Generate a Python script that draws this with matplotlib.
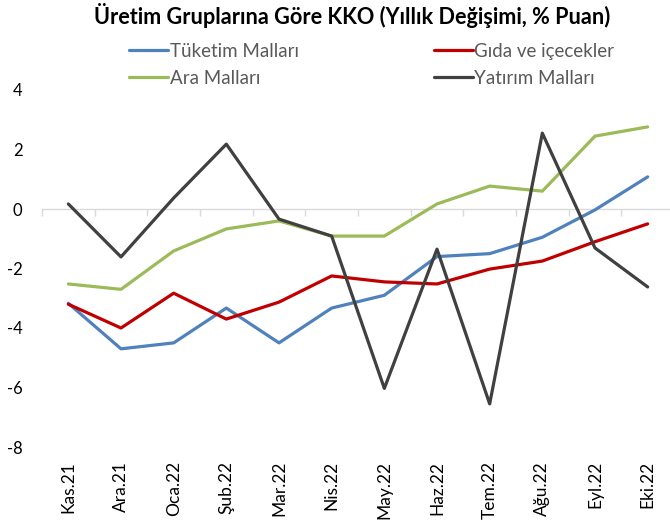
import matplotlib

matplotlib.use("Agg")

import matplotlib.pyplot as plt
from matplotlib.ticker import FixedLocator, NullFormatter

plt.rcParams["font.family"] = ["Lato", "DejaVu Sans"]

months = ["Kas.21", "Ara.21", "Oca.22", "Şub.22", "Mar.22", "Nis.22",
          "May.22", "Haz.22", "Tem.22", "Ağu.22", "Eyl.22", "Eki.22"]
tuketim = [-3.17, -4.70, -4.50, -3.33, -4.50, -3.33, -2.90, -1.60, -1.50, -0.95, -0.03, 1.08]
gida = [-3.20, -4.00, -2.83, -3.70, -3.13, -2.25, -2.45, -2.52, -2.02, -1.75, -1.10, -0.50]
ara = [-2.52, -2.70, -1.41, -0.67, -0.40, -0.91, -0.91, 0.17, 0.77, 0.60, 2.45, 2.76]
yatirim = [0.17, -1.61, 0.37, 2.18, -0.34, -0.91, -6.03, -1.35, -6.55, 2.55, -1.31, -2.62]

series = {
    "Tüketim Malları": (tuketim, "#4F81BD"),
    "Gıda ve içecekler": (gida, "#C00000"),
    "Ara Malları": (ara, "#9BBB59"),
    "Yatırım Malları": (yatirim, "#404040"),
}
# legend fills column-wise, so list column 1 entries first
legend_order = ["Tüketim Malları", "Ara Malları", "Gıda ve içecekler", "Yatırım Malları"]

W, H = 670, 522
fig = plt.figure(figsize=(W / 100, H / 100), dpi=100)
ax = fig.add_axes([42 / W, 1 - 447 / H, 632 / W, (447 - 90) / H])

x = list(range(len(months)))
lines = {}
for label, (vals, color) in series.items():
    (lines[label],) = ax.plot(x, vals, color=color, linewidth=2.3, label=label,
                              solid_capstyle="round")

ax.set_xlim(-0.5, len(months) - 0.5)
ax.set_ylim(-8, 4)
ax.set_yticks([-8, -6, -4, -2, 0, 2, 4])
ax.set_yticklabels(["-8", "-6", "-4", "-2", "0", "2", "4"])
ax.tick_params(axis="y", length=0, labelsize=12, pad=14, labelcolor="#000000")
ax.set_xticks(x)
ax.set_xticklabels(months, rotation=90, fontsize=12.5)
ax.tick_params(axis="x", length=0, pad=10)
for s in ax.spines.values():
    s.set_visible(False)

# category axis line crossing at zero
zero_ax = ax.secondary_xaxis(0, transform=ax.transData)
zero_ax.spines["bottom"].set_color("#D9D9D9")
zero_ax.spines["bottom"].set_linewidth(1.0)
zero_ax.xaxis.set_major_locator(FixedLocator([i - 0.5 for i in range(len(months) + 1)]))
zero_ax.xaxis.set_major_formatter(NullFormatter())
zero_ax.tick_params(axis="x", length=5, width=1.0, color="#D9D9D9", direction="out")
ax.set_zorder(zero_ax.get_zorder() + 1)
ax.patch.set_visible(False)

fig.text(352 / W, 1 - 16 / H, "Üretim Gruplarına Göre KKO (Yıllık Değişimi, % Puan)",
         ha="center", va="center", fontsize=15.6, fontweight="bold")

leg = fig.legend(
    handles=[lines[k] for k in legend_order],
    labels=legend_order,
    loc="upper left",
    bbox_to_anchor=(129 / W, 1 - 43 / H),
    ncol=2,
    frameon=False,
    fontsize=13.5,
    handlelength=2.08,
    handletextpad=0.08,
    columnspacing=7.2,
    labelspacing=0.52,
    borderpad=0,
    borderaxespad=0,
)
for t in leg.get_texts():
    t.set_color("#595959")

fig.savefig("out.png", dpi=100)
